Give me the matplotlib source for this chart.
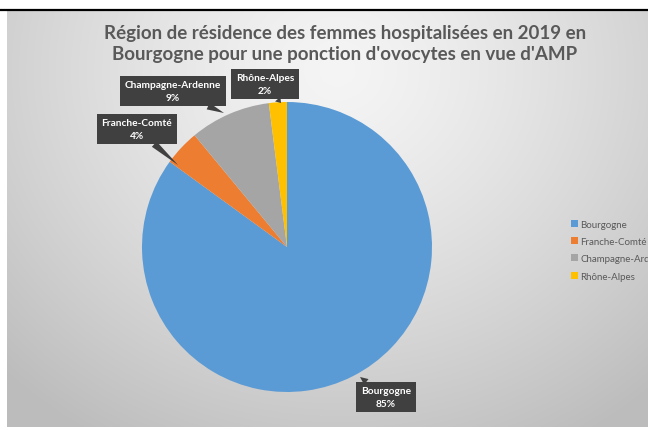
import numpy as np
import matplotlib
matplotlib.use("Agg")
import matplotlib.pyplot as plt
from matplotlib.lines import Line2D
from matplotlib.patches import Patch

plt.rcParams["font.family"] = ["Lato", "DejaVu Sans"]

# ── Data ──────────────────────────────────────────────────────────────────────
regions = ["Bourgogne", "Franche-Comté", "Champagne-Ardenne", "Rhône-Alpes"]
shares = [85, 4, 9, 2]
colors = ["#5B9BD5", "#ED7D31", "#A5A5A5", "#FFC000"]
legend_labels = ["Bourgogne", "Franche-Comté", "Champagne-Ardenne", "Rhône-Alpes"]
title = ("Région de résidence des femmes hospitalisées en 2019 en\n"
         "Bourgogne pour une ponction d'ovocytes en vue d'AMP")

W, H = 648, 431
fig = plt.figure(figsize=(W / 100, H / 100), dpi=100)
fig.patch.set_facecolor("white")

# ── Chart area with radial gradient fill ──────────────────────────────────────
x0, y_top, y_bot = 7, 11, 3
bg = fig.add_axes([x0 / W, y_bot / H, (W - x0) / W, (H - y_top - y_bot) / H])
gh, gw = H - y_top - y_bot, W - x0
yy, xx = np.mgrid[0:gh, 0:gw]
d = np.sqrt(((xx - 330) / 420.0) ** 2 + ((yy - 60) / 380.0) ** 2)
shade = np.clip(0.96 - 0.19 * d ** 1.3, 0.74, 0.96)
bg.imshow(np.dstack([shade] * 3), aspect="auto", interpolation="bilinear")
bg.set_axis_off()

# black rule above the chart and cropped heading above it
fig.add_artist(Line2D([0, 1], [1 - 10.5 / H] * 2, color="black", lw=1.6))
fig.text(463 / W, 1 + 9 / H, "Bourgogne", ha="center", va="baseline",
         fontsize=21, color="black")

fig.text(345 / W, 1 - 44 / H, title, ha="center", va="center",
         fontsize=13.5, fontweight="bold", color="#595959", linespacing=1.35)

# ── Pie ───────────────────────────────────────────────────────────────────────
cx, cy, r = 287, 248, 145
ax = fig.add_axes([(cx - r) / W, (H - cy - r) / H, 2 * r / W, 2 * r / H])
ax.pie(shares, colors=colors, startangle=90, counterclock=False, radius=1,
       wedgeprops=dict(linewidth=0))
ax.set_xlim(-1, 1)
ax.set_ylim(-1, 1)
ax.set_aspect("equal")
ax.set_axis_off()

# callout boxes: label centre and pointer target in pixels
callouts = [
    ((386, 398), (360, 378)),
    ((137, 130), (178, 166)),
    ((173, 92), (224, 114)),
    ((265, 85), (281, 104)),
]


def to_data(p):
    return ((p[0] - cx) / r, (cy - p[1]) / r)


for name, val, (lab, tip) in zip(regions, shares, callouts):
    ax.annotate(f"{name}\n{val}%", xy=to_data(tip), xytext=to_data(lab),
                ha="center", va="center", fontsize=7.3, fontweight="bold",
                color="white", annotation_clip=False, linespacing=1.45,
                bbox=dict(boxstyle="square,pad=0.45", fc="#404040", ec="none"),
                arrowprops=dict(arrowstyle="wedge,tail_width=0.7,shrink_factor=0.5",
                                fc="#404040", ec="none", shrinkA=0, shrinkB=0))

# ── Legend ────────────────────────────────────────────────────────────────────
handles = [Patch(facecolor=c, edgecolor="none") for c in colors]
leg = fig.legend(handles, legend_labels, loc="upper left",
                 bbox_to_anchor=(562 / W, 1 - 212 / H), frameon=False,
                 fontsize=7, handlelength=0.7, handleheight=0.7,
                 handletextpad=0.3, labelspacing=0.85, labelcolor="#595959")

fig.savefig("out.png", dpi=100)
